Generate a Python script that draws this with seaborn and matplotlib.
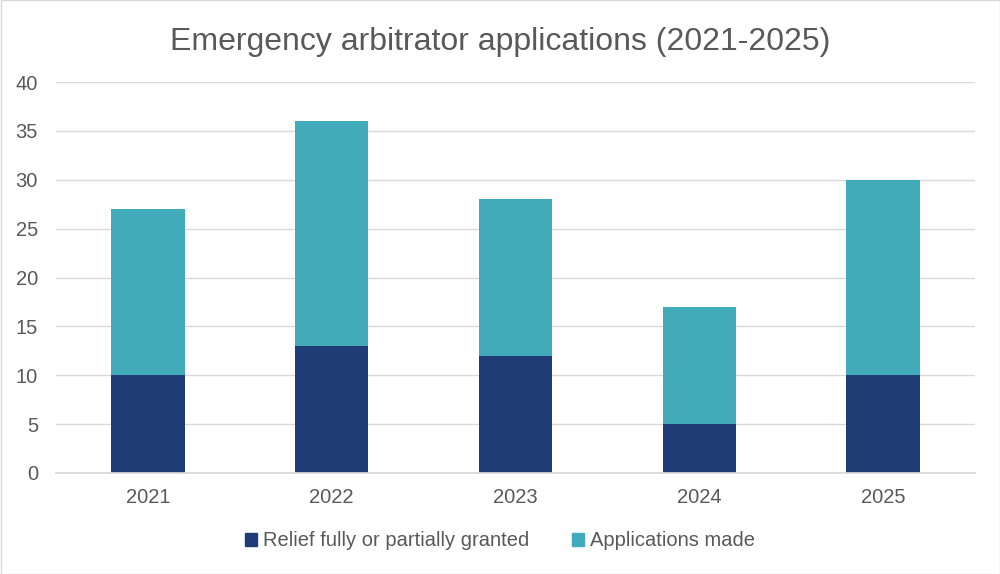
import pandas as pd
import seaborn as sns
import matplotlib.pyplot as plt
from matplotlib.patches import Rectangle

years = ['2021', '2022', '2023', '2024', '2025']
relief = [10, 13, 12, 5, 10]
applications = [27, 36, 28, 17, 30]

navy = '#1F3C77'
teal = '#41ABB9'
grey = '#595959'

df = pd.DataFrame({'year': years, 'relief': relief, 'applications': applications})

sns.set_theme(style='white')
plt.rcParams['font.family'] = ['Liberation Sans', 'DejaVu Sans']

fig = plt.figure(figsize=(10, 5.74), dpi=100)
ax = fig.add_axes([0.056, 0.176, 0.919, 0.681])

# totals first, relief drawn over the bottom part
sns.barplot(data=df, x='year', y='applications', color=teal, width=0.4,
            saturation=1, linewidth=0, ax=ax)
sns.barplot(data=df, x='year', y='relief', color=navy, width=0.4,
            saturation=1, linewidth=0, ax=ax)

ax.set_ylim(0, 40)
ax.set_xlim(-0.5, 4.5)
ax.set_yticks(range(0, 41, 5))
ax.yaxis.grid(True, color='#D9D9D9', linewidth=1)
ax.set_axisbelow(True)
ax.set_xlabel('')
ax.set_ylabel('')
for s in ['top', 'right', 'left']:
    ax.spines[s].set_visible(False)
ax.spines['bottom'].set_color('#D9D9D9')
ax.tick_params(axis='both', colors=grey, labelsize=14.5, length=0)
ax.tick_params(axis='x', pad=11)
ax.tick_params(axis='y', pad=13)

fig.suptitle('Emergency arbitrator applications (2021-2025)', x=0.5, y=0.953,
             fontsize=23, color=grey)

handles = [Rectangle((0, 0), 1, 1, color=navy), Rectangle((0, 0), 1, 1, color=teal)]
fig.legend(handles, ['Relief fully or partially granted', 'Applications made'],
           loc='center', bbox_to_anchor=(0.5, 0.058), ncol=2, frameon=False,
           fontsize=14.5, labelcolor=grey, handlelength=0.6, handleheight=0.6,
           handletextpad=0.3, columnspacing=2.1)

fig.add_artist(Rectangle((0.0005, 0.0005), 0.999, 0.999, transform=fig.transFigure,
                         fill=False, edgecolor='#D9D9D9', linewidth=1))

fig.savefig('out.png', dpi=100)
